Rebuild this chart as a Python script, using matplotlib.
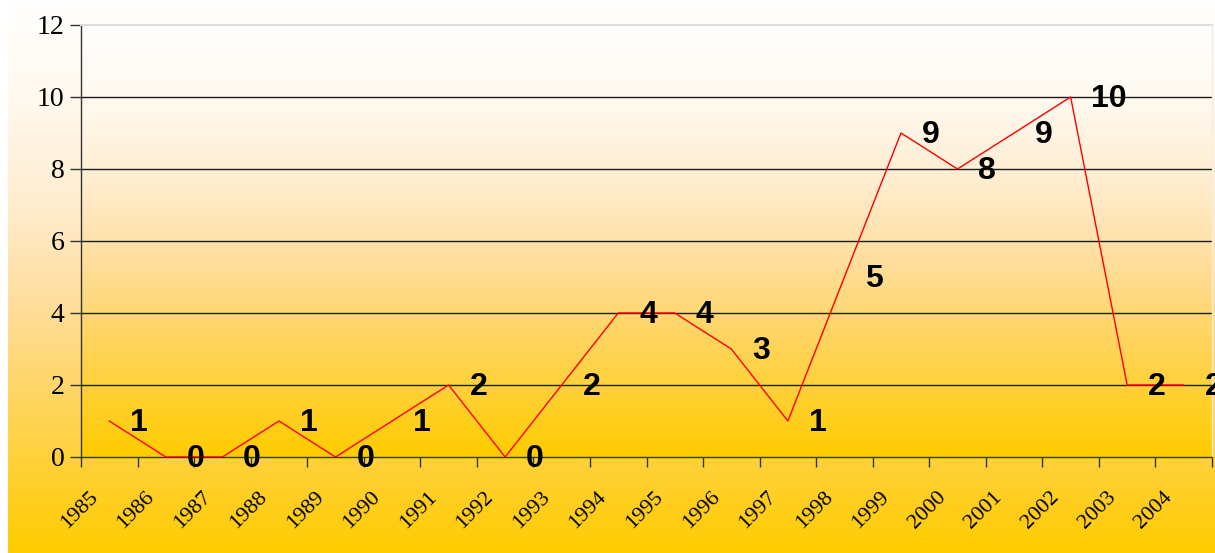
import numpy as np
import matplotlib.pyplot as plt
from matplotlib.colors import LinearSegmentedColormap

# yearly counts, one per category
years = [str(y) for y in range(1985, 2005)]
counts = [1, 0, 0, 1, 0, 1, 2, 0, 2, 4, 4, 3, 1, 5, 9, 8, 9, 10, 2, 2]
yticks = [0, 2, 4, 6, 8, 10, 12]

# white to gold fill, top to bottom
gold = LinearSegmentedColormap.from_list("gold", [
    (0.0, "#FFFFFF"), (0.2, "#FFF8EC"), (0.38, "#FFECCC"),
    (0.56, "#FFDD99"), (0.74, "#FFD45A"), (1.0, "#FFCC00")])
grad = np.linspace(0, 1, 256).reshape(-1, 1)

W, H = 1215, 553
fig = plt.figure(figsize=(W / 100, H / 100), dpi=100)
fig.patch.set_facecolor("white")

# chart background
bg = fig.add_axes([8 / W, 0, 1 - 8 / W, 1])
bg.imshow(grad, cmap=gold, aspect="auto", extent=(0, 1, 0, 1))
bg.set_axis_off()

ax = fig.add_axes([81 / W, (H - 457) / H, (1212 - 81) / W, (457 - 25) / H])
ax.set_facecolor("none")
ax.imshow(grad, cmap=gold, aspect="auto", extent=(0, 20, 0, 12), zorder=0)
ax.set_xlim(0, 20)
ax.set_ylim(0, 12)

for yv in yticks[1:-1]:
    ax.axhline(yv, color="#1a1a1a", lw=1.0, zorder=1)

x = np.arange(len(counts)) + 0.5
ax.plot(x, counts, color="#FF0000", lw=1.0, zorder=3)

for xi, c in zip(x, counts):
    ax.annotate(str(c), (xi, c), xytext=(15, -1.5), textcoords="offset points",
                ha="left", va="center", fontsize=23, fontweight="bold",
                family="Liberation Sans", color="black", zorder=4,
                annotation_clip=False)

ax.set_yticks(yticks)
ax.set_yticklabels([str(v) for v in yticks], family="Liberation Serif", fontsize=20)
ax.tick_params(axis="y", length=8, width=1, color="#333333", pad=4)

ax.set_xticks(np.arange(0, 21))
ax.set_xticklabels([])
ax.tick_params(axis="x", length=7, width=1, color="#333333")
for xi, lab in zip(x, years):
    ax.annotate(lab, (xi, 0), xycoords=("data", "axes fraction"),
                xytext=(-5.5, -22), textcoords="offset points",
                ha="right", va="top", rotation=45, fontsize=16,
                family="Liberation Serif", annotation_clip=False)

for side in ("left", "bottom"):
    ax.spines[side].set_color("#333333")
    ax.spines[side].set_linewidth(1)
ax.spines["top"].set_color("#DDDDDD")
ax.spines["top"].set_linewidth(1.5)
ax.spines["right"].set_color("#F2EEE6")
ax.spines["right"].set_linewidth(1)

fig.savefig("out.png", dpi=100)
